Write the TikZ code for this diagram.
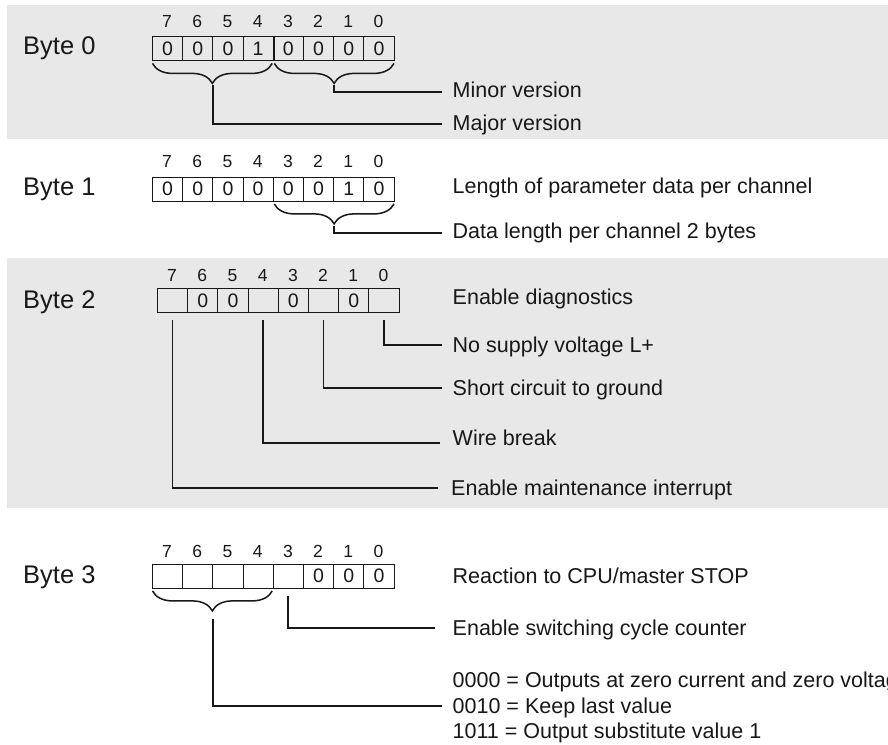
\documentclass[tikz,border=0pt]{standalone}
\usepackage{fontspec}
\setmainfont{Liberation Sans}
\usetikzlibrary{decorations.pathreplacing,calc}
\definecolor{band}{RGB}{232,232,232}
\definecolor{ink}{RGB}{24,24,24}
\begin{document}
\begin{tikzpicture}[x=1pt,y=-1pt,
  cell/.style={draw=ink, line width=0.9pt, minimum width=30.2pt, minimum height=24pt, inner sep=0pt, anchor=north west, font=\fontsize{19.5}{19.5}\selectfont, text=ink},
  bitno/.style={inner sep=0pt, anchor=base, font=\fontsize{17.5}{17.5}\selectfont, text=ink},
  bytelbl/.style={inner sep=0pt, anchor=base west, font=\fontsize{25.5}{25.5}\selectfont, text=ink},
  desc/.style={inner sep=0pt, anchor=west, text height=15.4pt, text depth=0pt, font=\fontsize{21.5}{21.5}\selectfont, text=ink},
  lead/.style={draw=ink, line width=1.8pt},
  brc/.style={draw=ink, line width=1.5pt, decorate, decoration={brace, mirror, amplitude=20pt}},
]
\useasboundingbox (0,0) rectangle (888,744);
\fill[white] (0,0) rectangle (888,744);
\fill[band] (7,5) rectangle (888,139);
\fill[band] (7,258) rectangle (888,508);

% ---------------- Byte 0
\node[bytelbl] (l0) at (23,54.3) {Byte 0};
\foreach \b/\v [count=\i from 0] in {7/0,6/0,5/0,4/1,3/0,2/0,1/0,0/0}{
  \node[cell] (c0-\b) at (152+\i*30.2,36) {\v};
  \node[bitno] (n0-\b) at (152+\i*30.2+15.1,27.3) {\b};
}
\draw[ink, line width=1.6pt] (c0-4.north east) -- (c0-4.south east);
\draw[brc] ([xshift=0.5pt,yshift=-2.5pt]c0-7.south west) -- ([xshift=-1.5pt,yshift=-2.5pt]c0-4.south east);
\draw[brc] ([xshift=1.5pt,yshift=-2.5pt]c0-3.south west) -- ([xshift=-0.5pt,yshift=-2.5pt]c0-0.south east);
\coordinate (t0a) at ($(c0-7.south west)!0.5!(c0-4.south east)+(0,24.5)$);
\coordinate (t0b) at ($(c0-3.south west)!0.5!(c0-0.south east)+(0,24.5)$);
\node[desc] (d0a) at (452.5,90) {Minor version};
\node[desc] (d0b) at (452.5,122.5) {Major version};
\draw[lead] (t0b) |- ([xshift=-11pt,yshift=-2pt]d0a.west);
\draw[lead] (t0a) |- ([xshift=-11pt,yshift=-1.5pt]d0b.west);

% ---------------- Byte 1
\node[bytelbl] (l1) at (23,195.5) {Byte 1};
\foreach \b/\v [count=\i from 0] in {7/0,6/0,5/0,4/0,3/0,2/0,1/1,0/0}{
  \node[cell] (c1-\b) at (152+\i*30.2,176.5) {\v};
  \node[bitno] (n1-\b) at (152+\i*30.2+15.1,167.7) {\b};
}
\draw[brc] ([xshift=1.5pt,yshift=-2.5pt]c1-3.south west) -- ([xshift=-0.5pt,yshift=-2.5pt]c1-0.south east);
\coordinate (t1) at ($(c1-3.south west)!0.5!(c1-0.south east)+(0,24.5)$);
\node[desc] (d1a) at (452.5,185.5) {Length of parameter data per channel};
\node[desc] (d1b) at (452.5,231) {Data length per channel 2 bytes};
\draw[lead] (t1) |- ([xshift=-11pt,yshift=-2.3pt]d1b.west);

% ---------------- Byte 2
\node[bytelbl] (l2) at (23,308) {Byte 2};
\foreach \b/\v [count=\i from 0] in {7/{},6/0,5/0,4/{},3/0,2/{},1/0,0/{}}{
  \node[cell] (c2-\b) at (157+\i*30.2,288.3) {\v};
  \node[bitno] (n2-\b) at (157+\i*30.2+15.1,281.7) {\b};
}
\node[desc] (d2a) at (452.5,297) {Enable diagnostics};
\node[desc] (d2b) at (452.5,344.5) {No supply voltage L+};
\node[desc] (d2c) at (452.5,387.5) {Short circuit to ground};
\node[desc] (d2d) at (452.5,437.5) {Wire break};
\node[desc] (d2e) at (451,487.5) {Enable maintenance interrupt};
\draw[lead] ([yshift=-7pt]c2-0.south) |- ([xshift=-11pt,yshift=-0.5pt]d2b.west);
\draw[lead] ([yshift=-7pt]c2-2.south) |- ([xshift=-11pt,yshift=-0.2pt]d2c.west);
\draw[lead] ([yshift=-7pt]c2-4.south) |- ([xshift=-12.5pt,yshift=-5.8pt]d2d.west);
\draw[lead] ([yshift=-7pt]c2-7.south) |- ([xshift=-12.7pt,yshift=-0.2pt]d2e.west);

% ---------------- Byte 3
\node[bytelbl] (l3) at (23,583) {Byte 3};
\foreach \b/\v [count=\i from 0] in {7/{},6/{},5/{},4/{},3/{},2/0,1/0,0/0}{
  \node[cell] (c3-\b) at (152+\i*30.2,563.5) {\v};
  \node[bitno] (n3-\b) at (152+\i*30.2+15.1,557.3) {\b};
}
\draw[brc] ([xshift=0.5pt,yshift=-2.5pt]c3-7.south west) -- ([xshift=-1.5pt,yshift=-2.5pt]c3-4.south east);
\coordinate (t3) at ($(c3-7.south west)!0.5!(c3-4.south east)+(0,31)$);
\node[desc] (d3a) at (452.5,576) {Reaction to CPU/master STOP};
\node[desc] (d3b) at (452.5,628) {Enable switching cycle counter};
\node[desc] (d3c) at (452.5,680) {0000 = Outputs at zero current and zero voltage};
\node[desc] (d3d) at (452.5,705.5) {0010 = Keep last value};
\node[desc] (d3e) at (452.5,731) {1011 = Output substitute value 1};
\draw[lead] ([yshift=-8pt]c3-3.south) |- ([xshift=-17.5pt,yshift=-0.3pt]d3b.west);
\draw[lead] (t3) |- ([xshift=-11pt,yshift=-0.5pt]d3d.west);
\end{tikzpicture}
\end{document}
